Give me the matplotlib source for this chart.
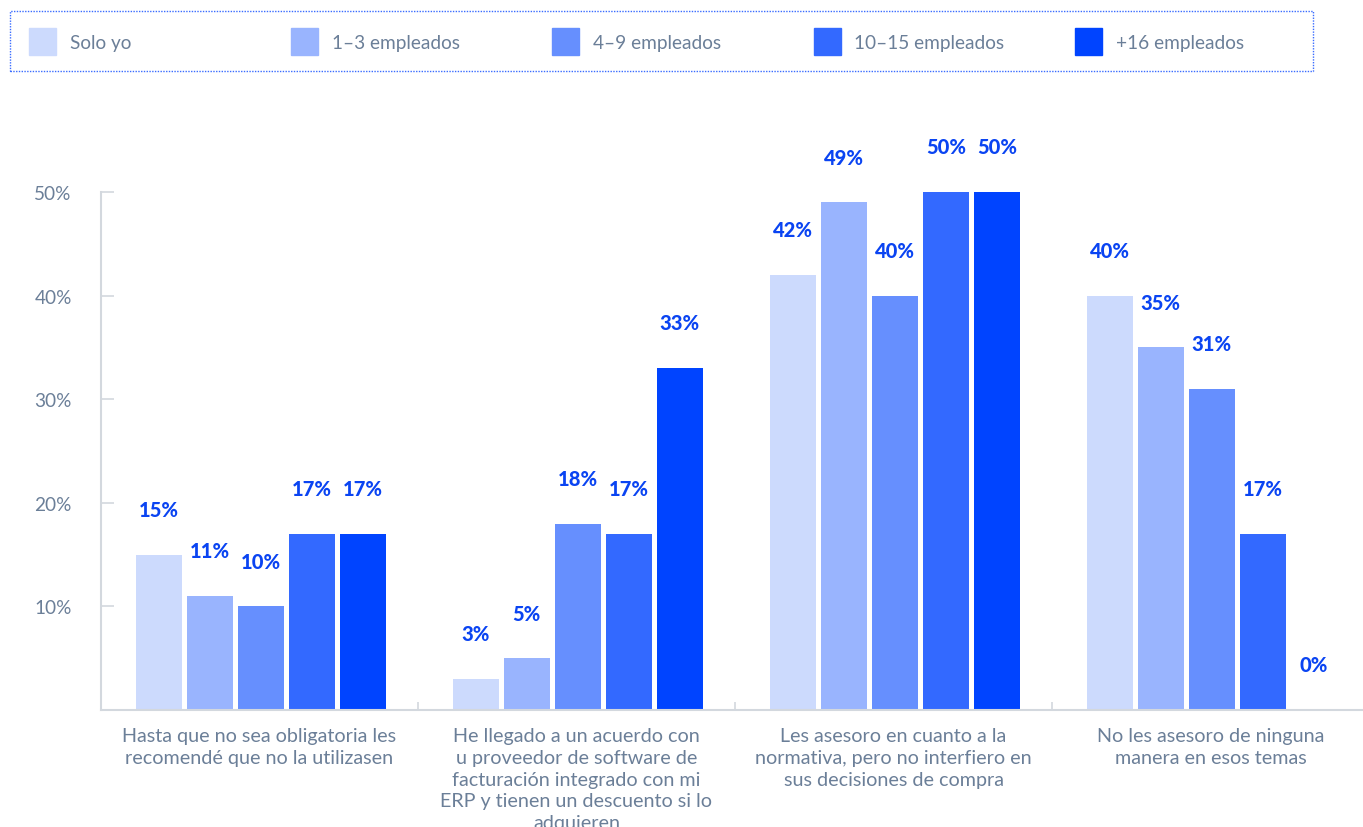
import numpy as np
import matplotlib.pyplot as plt
from matplotlib.patches import Rectangle

plt.rcParams['font.family'] = ['Lato', 'DejaVu Sans']

series = ['Solo yo', '1-3 empleados', '4-9 empleados', '10-15 empleados', '+16 empleados']
colors = ['#ccdafd', '#99b4fe', '#668ffe', '#3369ff', '#0044ff']
categories = [
    'Hasta que no sea obligatoria les\nrecomendé que no la utilizasen',
    'He llegado a un acuerdo con\nu proveedor de software de\nfacturación integrado con mi\nERP y tienen un descuento si lo\nadquieren',
    'Les asesoro en cuanto a la\nnormativa, pero no interfiero en\nsus decisiones de compra',
    'No les asesoro de ninguna\nmanera en esos temas',
]
solo_yo = [15, 3, 42, 40]
emp_1_3 = [11, 5, 49, 35]
emp_4_9 = [10, 18, 40, 31]
emp_10_15 = [17, 17, 50, 17]
emp_16 = [17, 33, 50, 0]
values = [solo_yo, emp_1_3, emp_4_9, emp_10_15, emp_16]

W, H = 1363, 828
fig = plt.figure(figsize=(W / 100, H / 100), dpi=100)
ax = fig.add_axes([101 / W, (H - 711) / H, 1268 / W, 518 / H])

grey_txt = '#6b7f98'
axis_col = '#d3d8de'
label_col = '#0a44f2'

x = np.arange(len(categories))
bar_w = 0.145
pitch = 0.161
for i, (name, vals, c) in enumerate(zip(series, values, colors)):
    pos = x + (i - 2) * pitch + 0.004
    ax.bar(pos, vals, width=bar_w, color=c, zorder=2)
    for px, v in zip(pos, vals):
        ax.annotate(f'{v}%', (px, v), xytext=(0, 32.5), textcoords='offset points',
                    ha='center', va='center', fontsize=14.5, fontweight='black',
                    color=label_col, annotation_clip=False)

ax.set_xlim(-0.5, 3.5)
ax.set_ylim(0, 50)
ax.set_yticks([10, 20, 30, 40, 50])
ax.set_yticklabels([f'{t}%' for t in [10, 20, 30, 40, 50]])
ax.tick_params(axis='y', direction='in', length=9.5, width=1.2, color=axis_col,
               labelsize=13.7, labelcolor=grey_txt, pad=21)

ax.set_xticks(x)
ax.set_xticklabels(categories, fontsize=14.2, color=grey_txt, linespacing=1.33)
ax.tick_params(axis='x', length=0, pad=12.5)
ax.set_xticks([0.5, 1.5, 2.5], minor=True)
ax.tick_params(axis='x', which='minor', direction='in', length=6, width=1.2, color=axis_col)

for s in ['top', 'right']:
    ax.spines[s].set_visible(False)
for s in ['left', 'bottom']:
    ax.spines[s].set_color(axis_col)
    ax.spines[s].set_linewidth(1.5)

# legend strip across the top
fig.add_artist(Rectangle((10 / W, (H - 72) / H), 1303 / W, 60 / H, transform=fig.transFigure,
                         fill=False, edgecolor='#3a6cff', linewidth=1, linestyle=(0, (1, 1))))
for i, (name, c) in enumerate(zip(series, colors)):
    x0 = 29 + 261.5 * i
    fig.add_artist(Rectangle((x0 / W, (H - 56) / H), 27 / W, 27 / H,
                             transform=fig.transFigure, color=c))
    fig.text((x0 + 41) / W, (H - 43) / H, name.replace('-', '–'), fontsize=13.7,
             color=grey_txt, va='center', ha='left')

fig.savefig('out.png', dpi=100)
